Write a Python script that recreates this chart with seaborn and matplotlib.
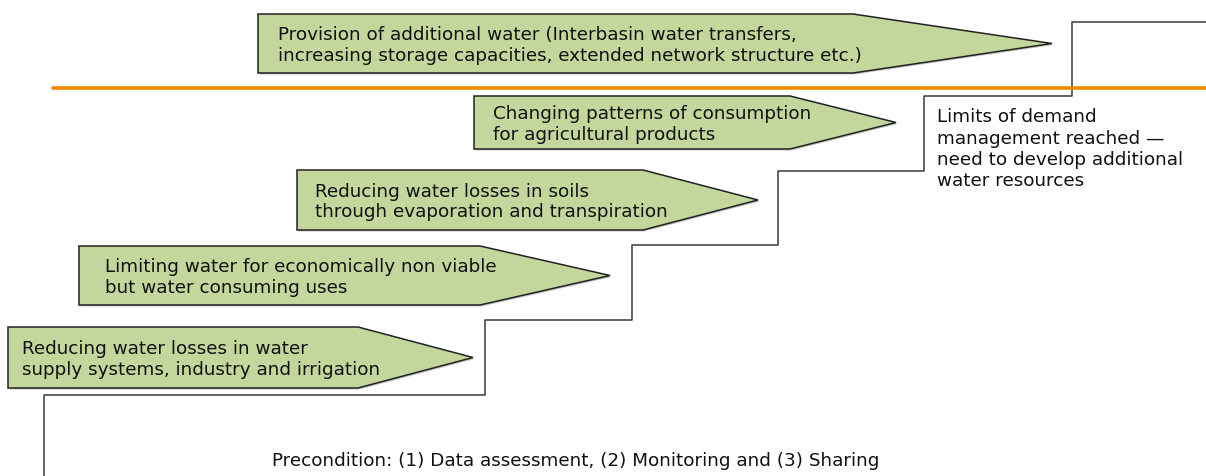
import numpy as np
import pandas as pd
import matplotlib
matplotlib.use("Agg")
import matplotlib.pyplot as plt
from matplotlib.patches import Polygon
import seaborn as sns

# Texto das setas (de baixo para cima)
labels = [
    "Reducing water losses in water\nsupply systems, industry and irrigation",
    "Limiting water for economically non viable\nbut water consuming uses",
    "Reducing water losses in soils\nthrough evaporation and transpiration",
    "Changing patterns of consumption\nfor agricultural products",
    "Provision of additional water (Interbasin water transfers,\nincreasing storage capacities, extended network structure etc.)",
]
# Geometria das setas em pixels (x esquerda, topo, base, fim do corpo, ponta)
arrow_left = [8, 79, 297, 474, 258]
arrow_top = [328, 247, 171, 97, 15]
arrow_bottom = [389, 306, 231, 150, 74]
arrow_body_end = [358, 480, 643, 790, 853]
arrow_tip = [473, 610, 758, 896, 1052]
text_pad = [14, 26, 18, 19, 20]

# Degraus da escada
step_x = [44, 485, 632, 778, 924, 1072, 1206]
step_y = [477, 396, 321, 246, 172, 97, 23]

limit_text = "Limits of demand\nmanagement reached \u2014\nneed to develop additional\nwater resources"
precondition = "Precondition: (1) Data assessment, (2) Monitoring and (3) Sharing"


def main():
    sns.set_style("white")
    plt.rcParams['font.family'] = ['DejaVu Sans']

    fig = plt.figure(figsize=(12.06, 4.77), dpi=100)
    ax = fig.add_axes([0, 0, 1, 1])
    ax.set_xlim(0, 1206)
    ax.set_ylim(477, 0)
    ax.axis('off')

    # Escada
    xs, ys = [step_x[0]], [step_y[0]]
    for i in range(1, len(step_x)):
        xs += [step_x[i - 1], step_x[i]]
        ys += [step_y[i], step_y[i]]
    stairs = pd.DataFrame({'x': xs, 'y': ys})
    sns.lineplot(data=stairs, x='x', y='y', sort=False, estimator=None,
                 color='#3a3a3a', linewidth=1.1, ax=ax)

    # Linha laranja
    ax.plot([53, 1206], [89, 89], color='#F08A00', linewidth=2.6)

    # Setas
    for lab, l, t, b, e, tip, pad in zip(labels, arrow_left, arrow_top, arrow_bottom,
                                          arrow_body_end, arrow_tip, text_pad):
        mid = (t + b) / 2
        pts = [(l, t), (e, t), (tip, mid), (e, b), (l, b)]
        shadow = Polygon([(px + 1.5, py + 1.5) for px, py in pts], closed=True,
                         facecolor='#888888', edgecolor='none', alpha=0.5)
        ax.add_patch(shadow)
        ax.add_patch(Polygon(pts, closed=True, facecolor='#C3D69B',
                             edgecolor='#222222', linewidth=1.1))
        ax.text(l + pad, mid + 1, lab, ha='left', va='center', fontsize=13.2,
                color='#111111', linespacing=1.2)

    ax.text(937, 108, limit_text, ha='left', va='top', fontsize=13.2,
            color='#111111', linespacing=1.25)
    ax.text(272, 461, precondition, ha='left', va='center', fontsize=13.2,
            color='#111111')

    fig.savefig('out.png', dpi=100)


if __name__ == "__main__":
    main()
